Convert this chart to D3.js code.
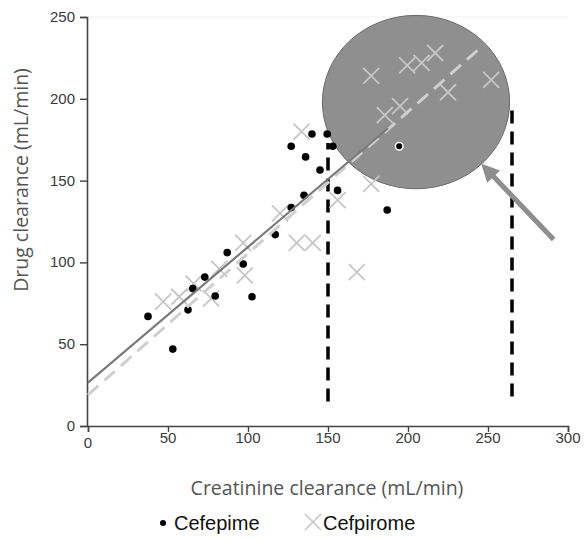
<!DOCTYPE html>
<html>
<head>
<meta charset="utf-8">
<script src="https://cdn.jsdelivr.net/npm/d3@7"></script>
<style>
  body { margin: 0; background: #fff; }
  svg { display: block; }
  .tick-label { font-family: "Liberation Sans", Arial, sans-serif; font-size: 15px; fill: #3a3a3a; }
  .axis-title { font-family: "Open Sans", sans-serif; font-size: 19.5px; fill: #555; }
  .legend-text { font-family: "Liberation Sans", Arial, sans-serif; font-size: 20px; fill: #111; }
</style>
</head>
<body>
<div id="chart"></div>
<script>
// Cefepime points [creatinine clearance, drug clearance]
const cefepime = [
  [37.5, 67], [53, 47], [62.5, 71], [65.5, 84], [73, 91], [79.5, 79.5],
  [87, 106], [97, 99], [102.5, 79], [117, 117], [127, 133.5], [135, 141],
  [127, 171], [136, 164.5], [145, 156.5], [140, 178.5], [149.5, 178.5],
  [153, 171], [156, 144], [194.5, 171], [187, 132]
];

// Cefpirome points
const cefpirome = [
  [47, 76], [57, 79], [66, 87], [77, 78], [82, 96], [97, 112], [98, 92],
  [120, 130], [130.5, 112], [140.5, 112], [133.5, 180], [156, 138],
  [168, 94], [177, 148], [177, 214], [199.5, 220.5], [208.5, 222],
  [217, 228], [225, 204], [252, 211.5], [195, 195.5], [185.5, 190]
];

// regression line end points
const fitCefepime = [[0, 26.5], [187.5, 182]];
const fitCefpirome = [[0, 19], [245, 231]];

// vertical dashed cut-off lines
const cutoffs = [
  { x: 150, y0: 15, y1: 173 },
  { x: 265, y0: 18, y1: 196 }
];

// highlight ellipse (data units) and arrow
const highlight = { cx: 205, cy: 198, rx: 58.5, ry: 53 };
const arrowLine = [[291, 114], [252, 154]];

const xTicks = [0, 50, 100, 150, 200, 250, 300];
const yTicks = [0, 50, 100, 150, 200, 250];

const width = 584, height = 540;

const x = d3.scaleLinear().domain([0, 300]).range([88, 568]);
const y = d3.scaleLinear().domain([0, 250]).range([426, 17]);

const svg = d3.select("#chart").
append("svg").
attr("width", width).
attr("height", height);

// faint top line
svg.append("line").
attr("x1", x(0)).attr("x2", x(300)).
attr("y1", y(250)).attr("y2", y(250)).
attr("stroke", "#f0f0f0").attr("stroke-width", 1);

// axes
const xAxis = svg.append("g").
attr("transform", `translate(0,${y(0)})`).
call(d3.axisBottom(x).tickValues(xTicks).tickSize(6).tickFormat(""));
const yAxis = svg.append("g").
attr("transform", `translate(${x(0) - 1},0)`).
call(d3.axisLeft(y).tickValues(yTicks).tickSize(7).tickFormat(""));

[xAxis, yAxis].forEach(a => {
  a.select(".domain").attr("stroke", "#444").attr("stroke-width", 1.6);
  a.selectAll(".tick line").attr("stroke", "#444").attr("stroke-width", 1.4);
});

svg.selectAll(".xlab").
data(xTicks).
enter().
append("text").
attr("class", "tick-label").
attr("x", d => x(d)).
attr("y", d => d === 0 ? 448 : 443).
attr("text-anchor", "middle").
text(d => d);

svg.selectAll(".ylab").
data(yTicks).
enter().
append("text").
attr("class", "tick-label").
attr("x", 75).
attr("y", d => y(d) + 5).
attr("text-anchor", "end").
text(d => d);

// axis titles
svg.append("text").
attr("class", "axis-title").
attr("x", 327).
attr("y", 495).
attr("text-anchor", "middle").
text("Creatinine clearance (mL/min)");

svg.append("text").
attr("class", "axis-title").
attr("transform", "translate(28,180) rotate(-90)").
attr("text-anchor", "middle").
text("Drug clearance (mL/min)");

// vertical dashed lines
svg.selectAll(".cutoff").
data(cutoffs).
enter().
append("line").
attr("x1", d => x(d.x)).attr("x2", d => x(d.x)).
attr("y1", d => y(d.y0)).attr("y2", d => y(d.y1)).
attr("stroke", "#000").
attr("stroke-width", 3.5).
attr("stroke-dasharray", "13,8");

// highlight ellipse
svg.append("ellipse").
attr("cx", x(highlight.cx)).
attr("cy", y(highlight.cy)).
attr("rx", x(highlight.rx) - x(0)).
attr("ry", y(0) - y(highlight.ry)).
attr("fill", "#8f8f8f").
attr("stroke", "#6a6a6a").
attr("stroke-width", 1);

const line = d3.line().x(d => x(d[0])).y(d => y(d[1]));

// cefpirome crosses
const cs = 8;
svg.selectAll(".cross").
data(cefpirome).
enter().
append("path").
attr("d", d => `M${x(d[0]) - cs},${y(d[1]) - cs}L${x(d[0]) + cs},${y(d[1]) + cs}M${x(d[0]) - cs},${y(d[1]) + cs}L${x(d[0]) + cs},${y(d[1]) - cs}`).
attr("stroke", "#c6c6c6").
attr("stroke-width", 1.8).
attr("fill", "none");

// cefepime dots
svg.selectAll(".dot").
data(cefepime).
enter().
append("circle").
attr("cx", d => x(d[0])).
attr("cy", d => y(d[1])).
attr("r", 3.8).
attr("fill", "#000").
attr("stroke", d => d[0] > 190 ? "#fff" : "none").
attr("stroke-width", 1.5);

// regression lines
svg.append("path").
attr("d", line(fitCefpirome)).
attr("stroke", "#cfcfcf").
attr("stroke-width", 3).
attr("stroke-dasharray", "14,8").
attr("fill", "none");

svg.append("path").
attr("d", line(fitCefepime)).
attr("stroke", "#7a7a7a").
attr("stroke-width", 2.2).
attr("fill", "none");

// arrow
svg.append("defs").
append("marker").
attr("id", "head").
attr("viewBox", "0 0 10 10").
attr("refX", 2).
attr("refY", 5).
attr("markerWidth", 3.6).
attr("markerHeight", 3.6).
attr("orient", "auto").
append("path").
attr("d", "M0,0L10,5L0,10Z").
attr("fill", "#8e8e8e");

svg.append("path").
attr("d", line(arrowLine)).
attr("stroke", "#8e8e8e").
attr("stroke-width", 5).
attr("marker-end", "url(#head)").
attr("fill", "none");

// legend
svg.append("circle").
attr("cx", 163).attr("cy", 523).attr("r", 3).attr("fill", "#000");
svg.append("text").
attr("class", "legend-text").
attr("x", 174).attr("y", 530).
text("Cefepime");

svg.append("path").
attr("d", "M305,514L321,530M305,530L321,514").
attr("stroke", "#c6c6c6").
attr("stroke-width", 1.6);
svg.append("text").
attr("class", "legend-text").
attr("x", 323).attr("y", 530).
text("Cefpirome");
</script>
</body>
</html>
